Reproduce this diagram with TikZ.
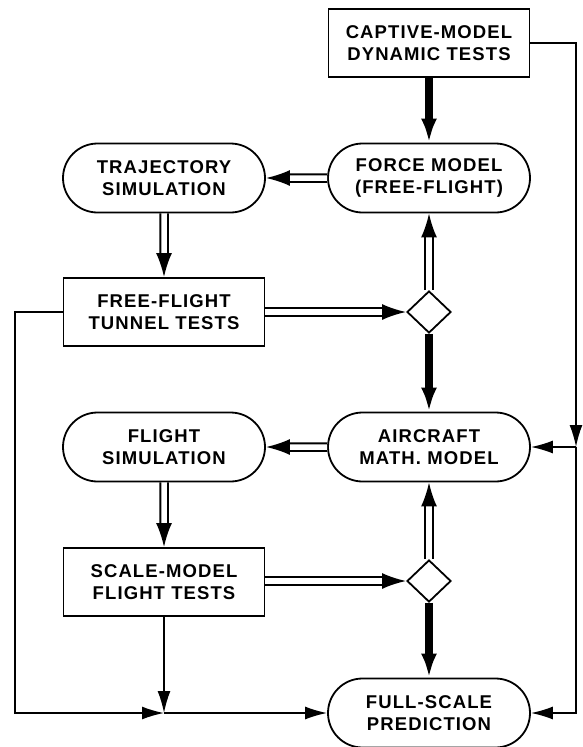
\documentclass[tikz,border=0pt]{standalone}
\usepackage{fontspec}
\setmainfont[LetterSpace=6]{Liberation Sans}
\usetikzlibrary{positioning, arrows.meta, shapes.geometric, shapes.misc}

\tikzset{
  lbl/.style={align=center, font=\bfseries\fontsize{18.5}{22}\selectfont, line width=1.8pt, inner sep=0pt},
  procbox/.style={lbl, draw, rectangle, minimum width=201pt, minimum height=68pt},
  simbox/.style={lbl, draw, rounded rectangle, minimum width=202pt, minimum height=69pt},
  checkbox/.style={draw, diamond, line width=1.8pt, minimum width=44pt, minimum height=42pt, inner sep=0pt},
  hollow/.style={draw, line width=2pt, double, double distance=5.5pt, -{Latex[length=24pt,width=16pt]}},
  heavy/.style={draw, line width=7.5pt, -{Latex[length=24pt,width=16pt]}},
  link/.style={draw, line width=1.6pt, -{Latex[length=22pt,width=13pt]}},
}

\begin{document}
\begin{tikzpicture}[x=1pt, y=-1pt]
    \useasboundingbox (0,0) rectangle (582,747);

    % right column
    \node[procbox] (captive) at (429,43) {CAPTIVE-MODEL\\DYNAMIC TESTS};
    \node[simbox] (force) at (429,178) {FORCE MODEL\\(FREE-FLIGHT)};
    \node[checkbox] (chk1) at (429,312) {};
    \node[simbox] (acmodel) at (429,447) {AIRCRAFT\\MATH. MODEL};
    \node[checkbox] (chk2) at (429,581) {};
    \node[simbox] (fullscale) at (429,713) {FULL-SCALE\\PREDICTION};

    % left column
    \node[simbox] (traj) at (164,178) {TRAJECTORY\\SIMULATION};
    \node[procbox] (tunnel) at (164,312) {FREE-FLIGHT\\TUNNEL TESTS};
    \node[simbox] (flightsim) at (164,447) {FLIGHT\\SIMULATION};
    \node[procbox] (scale) at (164,582) {SCALE-MODEL\\FLIGHT TESTS};

    \coordinate (rside) at (576,447);
    \coordinate (lcorner) at (15,713);
    \coordinate (join) at (164,713);

    \draw[heavy] (captive) -- (force);
    \draw[hollow] (force) -- (traj);
    \draw[hollow] (traj) -- (tunnel);
    \draw[hollow] (tunnel) -- (chk1);
    \draw[hollow] (chk1) -- (force);
    \draw[heavy] (chk1) -- (acmodel);

    \draw[hollow] (acmodel) -- (flightsim);
    \draw[hollow] (flightsim) -- (scale);
    \draw[hollow] (scale.east |- chk2) -- (chk2);
    \draw[hollow] (chk2) -- (acmodel);
    \draw[heavy] (chk2) -- (fullscale);

    \draw[link] (captive.east) -| (rside);
    \draw[link] (rside) -- (acmodel);
    \draw[link] (rside) |- (fullscale);
    \draw[link] (tunnel.west) -| (lcorner) -- (join);
    \draw[link] (scale) -- (join);
    \draw[link] (join) -- (fullscale);
\end{tikzpicture}
\end{document}
